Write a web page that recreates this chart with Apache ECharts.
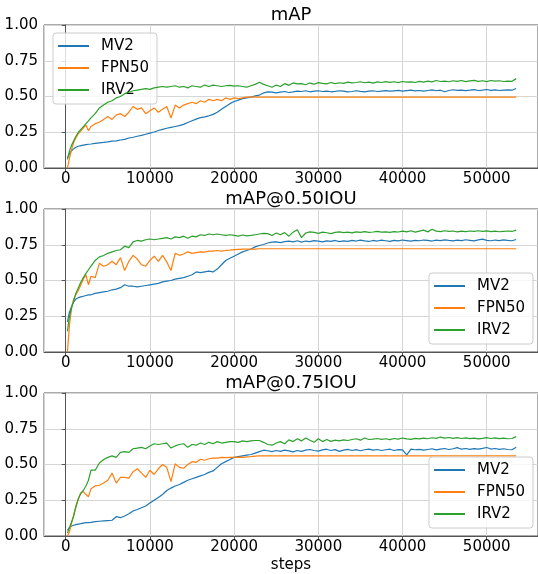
<!DOCTYPE html>
<html>
<head>
<meta charset="utf-8">
<script src="https://cdn.jsdelivr.net/npm/echarts@6/dist/echarts.min.js"></script>
<style>
  html, body { margin: 0; padding: 0; background: #fff; }
  #chart { width: 538px; height: 574px; }
</style>
</head>
<body>
<div id="chart"></div>
<script>
// training steps (shared by every curve)
var steps = [200, 450, 700, 950, 1200, 1500, 1800, 2100, 2400, 2700,
  3000, 3500, 4000, 4500, 5000, 5500, 6000, 6500, 7000, 7500,
  8000, 8500, 9000, 9500, 10000, 10500, 11000, 11500, 12000, 12500,
  13000, 13500, 14000, 14500, 15000, 15500, 16000, 16500, 17000, 17500,
  18000, 18500, 19000, 19500, 20000, 20500, 21000, 21500, 22000, 22500,
  23000, 23500, 24000, 24500, 25000, 25500, 26000, 26500, 27000, 27500,
  28000, 28500, 29000, 29500, 30000, 30500, 31000, 31500, 32000, 32500,
  33000, 33500, 34000, 34500, 35000, 35500, 36000, 36500, 37000, 37500,
  38000, 38500, 39000, 39500, 40000, 40500, 41000, 41500, 42000, 42500,
  43000, 43500, 44000, 44500, 45000, 45500, 46000, 46500, 47000, 47500,
  48000, 48500, 49000, 49500, 50000, 50500, 51000, 51500, 52000, 52500,
  53000, 53500];

var modelNames = ['MV2', 'FPN50', 'IRV2'];
var panelTitles = ['mAP', 'mAP@0.50IOU', 'mAP@0.75IOU'];

// mAP
var mapMV2 = [0.07, 0.10, 0.12, 0.135, 0.145, 0.152, 0.156, 0.16, 0.163, 0.166,
  0.168, 0.172, 0.176, 0.179, 0.183, 0.188, 0.19, 0.196, 0.20, 0.21,
  0.215, 0.222, 0.228, 0.236, 0.244, 0.252, 0.262, 0.27, 0.278, 0.284,
  0.29, 0.296, 0.305, 0.318, 0.33, 0.342, 0.352, 0.358, 0.365, 0.375,
  0.39, 0.41, 0.43, 0.45, 0.465, 0.475, 0.485, 0.49, 0.495, 0.505,
  0.51, 0.525, 0.532, 0.53, 0.525, 0.53, 0.535, 0.528, 0.532, 0.538,
  0.535, 0.54, 0.533, 0.537, 0.54, 0.535, 0.538, 0.533, 0.536, 0.54,
  0.537, 0.532, 0.535, 0.54, 0.536, 0.533, 0.537, 0.54, 0.535, 0.538,
  0.541, 0.537, 0.54, 0.543, 0.538, 0.541, 0.544, 0.539, 0.542, 0.538,
  0.542, 0.546, 0.54, 0.544, 0.533, 0.542, 0.547, 0.543, 0.545, 0.541,
  0.544, 0.548, 0.542, 0.545, 0.549, 0.543, 0.546, 0.542, 0.545, 0.547,
  0.544, 0.556];
var mapFPN50 = [0.0, 0.07, 0.13, 0.18, 0.21, 0.24, 0.26, 0.28, 0.30, 0.26,
  0.29, 0.31, 0.32, 0.34, 0.36, 0.34, 0.37, 0.38, 0.36, 0.39,
  0.43, 0.41, 0.42, 0.38, 0.40, 0.42, 0.39, 0.41, 0.43, 0.35,
  0.44, 0.42, 0.44, 0.45, 0.46, 0.45, 0.47, 0.46, 0.48, 0.47,
  0.48, 0.47, 0.49, 0.48, 0.49, 0.485, 0.49, 0.495, 0.495, 0.495,
  0.496, 0.496, 0.496, 0.496, 0.496, 0.496, 0.496, 0.496, 0.496, 0.496,
  0.496, 0.496, 0.496, 0.496, 0.496, 0.496, 0.496, 0.496, 0.496, 0.496,
  0.496, 0.496, 0.496, 0.496, 0.496, 0.496, 0.496, 0.496, 0.496, 0.496,
  0.496, 0.496, 0.496, 0.496, 0.496, 0.496, 0.496, 0.496, 0.496, 0.496,
  0.496, 0.496, 0.496, 0.496, 0.496, 0.496, 0.496, 0.496, 0.496, 0.496,
  0.496, 0.496, 0.496, 0.496, 0.496, 0.496, 0.496, 0.496, 0.496, 0.496,
  0.496, 0.496];
var mapIRV2 = [0.06, 0.12, 0.16, 0.19, 0.22, 0.25, 0.27, 0.29, 0.31, 0.33,
  0.35, 0.38, 0.42, 0.44, 0.46, 0.47, 0.49, 0.50, 0.52, 0.53,
  0.54, 0.545, 0.55, 0.555, 0.55, 0.56, 0.565, 0.57, 0.565, 0.57,
  0.575, 0.565, 0.57, 0.56, 0.575, 0.57, 0.565, 0.58, 0.57, 0.58,
  0.575, 0.57, 0.575, 0.578, 0.572, 0.575, 0.57, 0.565, 0.575, 0.585,
  0.60, 0.585, 0.575, 0.565, 0.58, 0.57, 0.59, 0.578, 0.595, 0.588,
  0.59, 0.582, 0.594, 0.586, 0.597, 0.592, 0.588, 0.598, 0.59, 0.596,
  0.592, 0.60, 0.595, 0.598, 0.603, 0.596, 0.60, 0.594, 0.602, 0.598,
  0.604, 0.599, 0.603, 0.597, 0.605, 0.60, 0.602, 0.598, 0.606, 0.601,
  0.607, 0.602, 0.612, 0.605, 0.608, 0.603, 0.61, 0.606, 0.612, 0.604,
  0.609, 0.613, 0.606, 0.61, 0.604, 0.612, 0.607, 0.61, 0.605, 0.608,
  0.606, 0.625];

// mAP@0.50IOU
var map50MV2 = [0.21, 0.28, 0.32, 0.35, 0.37, 0.38, 0.385, 0.39, 0.395, 0.40,
  0.40, 0.41, 0.415, 0.42, 0.425, 0.435, 0.44, 0.45, 0.47, 0.46,
  0.46, 0.455, 0.46, 0.465, 0.47, 0.475, 0.48, 0.49, 0.495, 0.50,
  0.51, 0.515, 0.52, 0.53, 0.54, 0.56, 0.555, 0.56, 0.565, 0.56,
  0.58, 0.61, 0.64, 0.655, 0.67, 0.685, 0.70, 0.71, 0.72, 0.735,
  0.745, 0.752, 0.762, 0.768, 0.77, 0.765, 0.772, 0.775, 0.77, 0.778,
  0.768, 0.776, 0.772, 0.779, 0.775, 0.77, 0.777, 0.774, 0.78, 0.772,
  0.777, 0.774, 0.78, 0.776, 0.782, 0.777, 0.773, 0.78, 0.776, 0.782,
  0.778, 0.774, 0.781, 0.777, 0.783, 0.779, 0.775, 0.781, 0.778, 0.783,
  0.78, 0.776, 0.782, 0.779, 0.784, 0.78, 0.777, 0.782, 0.779, 0.785,
  0.781, 0.777, 0.784, 0.789, 0.781, 0.778, 0.783, 0.779, 0.784, 0.78,
  0.778, 0.787];
var map50FPN50 = [0.0, 0.19, 0.31, 0.37, 0.40, 0.43, 0.47, 0.51, 0.54, 0.47,
  0.53, 0.52, 0.62, 0.60, 0.61, 0.634, 0.61, 0.66, 0.57, 0.634,
  0.676, 0.65, 0.61, 0.60, 0.64, 0.67, 0.634, 0.676, 0.63, 0.57,
  0.69, 0.676, 0.685, 0.70, 0.69, 0.695, 0.70, 0.698, 0.705, 0.705,
  0.71, 0.705, 0.71, 0.712, 0.716, 0.718, 0.72, 0.72, 0.72, 0.72,
  0.722, 0.722, 0.722, 0.722, 0.722, 0.722, 0.722, 0.722, 0.722, 0.722,
  0.722, 0.722, 0.722, 0.722, 0.722, 0.722, 0.722, 0.722, 0.722, 0.722,
  0.722, 0.722, 0.722, 0.722, 0.722, 0.722, 0.722, 0.722, 0.722, 0.722,
  0.722, 0.722, 0.722, 0.722, 0.722, 0.722, 0.722, 0.722, 0.722, 0.722,
  0.722, 0.722, 0.722, 0.722, 0.722, 0.722, 0.722, 0.722, 0.722, 0.722,
  0.722, 0.722, 0.722, 0.722, 0.722, 0.722, 0.722, 0.722, 0.722, 0.722,
  0.722, 0.722];
var map50IRV2 = [0.145, 0.25, 0.31, 0.36, 0.41, 0.45, 0.49, 0.52, 0.55, 0.575,
  0.60, 0.64, 0.665, 0.675, 0.69, 0.70, 0.71, 0.715, 0.74, 0.73,
  0.77, 0.78, 0.775, 0.785, 0.79, 0.785, 0.79, 0.795, 0.80, 0.79,
  0.805, 0.80, 0.81, 0.795, 0.81, 0.805, 0.82, 0.815, 0.825, 0.82,
  0.825, 0.82, 0.815, 0.82, 0.815, 0.81, 0.818, 0.812, 0.815, 0.82,
  0.825, 0.83, 0.828, 0.815, 0.832, 0.82, 0.835, 0.81, 0.838, 0.855,
  0.80, 0.832, 0.84, 0.836, 0.83, 0.838, 0.834, 0.828, 0.836, 0.84,
  0.835, 0.838, 0.833, 0.84, 0.837, 0.842, 0.836, 0.839, 0.843, 0.838,
  0.84, 0.836, 0.842, 0.839, 0.845, 0.84, 0.848, 0.838, 0.845, 0.852,
  0.84, 0.858, 0.845, 0.842, 0.848, 0.843, 0.846, 0.84, 0.845, 0.842,
  0.846, 0.843, 0.848, 0.844, 0.847, 0.842, 0.845, 0.841, 0.844, 0.846,
  0.843, 0.852];

// mAP@0.75IOU
var map75MV2 = [0.04, 0.06, 0.07, 0.075, 0.08, 0.083, 0.086, 0.09, 0.093, 0.093,
  0.095, 0.10, 0.103, 0.106, 0.108, 0.11, 0.135, 0.128, 0.14, 0.155,
  0.175, 0.185, 0.198, 0.21, 0.23, 0.25, 0.27, 0.29, 0.318, 0.335,
  0.35, 0.36, 0.375, 0.39, 0.40, 0.41, 0.42, 0.43, 0.445, 0.455,
  0.48, 0.505, 0.52, 0.535, 0.55, 0.555, 0.56, 0.565, 0.57, 0.58,
  0.59, 0.60, 0.596, 0.59, 0.598, 0.592, 0.60, 0.595, 0.588, 0.598,
  0.592, 0.60, 0.605, 0.598, 0.594, 0.602, 0.607, 0.598, 0.604, 0.592,
  0.60, 0.606, 0.598, 0.604, 0.596, 0.603, 0.608, 0.60, 0.605, 0.598,
  0.603, 0.607, 0.598, 0.604, 0.602, 0.568, 0.608, 0.603, 0.606, 0.60,
  0.605, 0.61, 0.602, 0.607, 0.612, 0.605, 0.61, 0.618, 0.607, 0.612,
  0.606, 0.611, 0.608, 0.613, 0.619, 0.608, 0.612, 0.606, 0.61, 0.605,
  0.603, 0.62];
var map75FPN50 = [0.0, 0.03, 0.09, 0.15, 0.21, 0.26, 0.30, 0.31, 0.29, 0.275,
  0.33, 0.35, 0.355, 0.37, 0.39, 0.44, 0.37, 0.41, 0.41, 0.405,
  0.45, 0.47, 0.44, 0.41, 0.46, 0.43, 0.47, 0.50, 0.48, 0.38,
  0.505, 0.48, 0.474, 0.50, 0.52, 0.515, 0.537, 0.53, 0.54, 0.544,
  0.545, 0.55, 0.548, 0.55, 0.55, 0.552, 0.55, 0.553, 0.555, 0.558,
  0.56, 0.56, 0.56, 0.56, 0.56, 0.56, 0.56, 0.56, 0.56, 0.56,
  0.56, 0.56, 0.56, 0.56, 0.56, 0.56, 0.56, 0.56, 0.56, 0.56,
  0.56, 0.56, 0.56, 0.56, 0.56, 0.56, 0.56, 0.56, 0.56, 0.56,
  0.56, 0.56, 0.56, 0.56, 0.56, 0.56, 0.56, 0.56, 0.56, 0.56,
  0.56, 0.56, 0.56, 0.56, 0.56, 0.56, 0.56, 0.56, 0.56, 0.56,
  0.56, 0.56, 0.56, 0.56, 0.56, 0.56, 0.56, 0.56, 0.56, 0.56,
  0.56, 0.56];
var map75IRV2 = [0.02, 0.06, 0.10, 0.14, 0.20, 0.26, 0.30, 0.32, 0.35, 0.39,
  0.46, 0.46, 0.51, 0.535, 0.55, 0.56, 0.55, 0.585, 0.59, 0.585,
  0.61, 0.615, 0.62, 0.61, 0.63, 0.645, 0.64, 0.645, 0.65, 0.615,
  0.63, 0.64, 0.645, 0.62, 0.64, 0.635, 0.65, 0.64, 0.655, 0.645,
  0.66, 0.65, 0.655, 0.66, 0.66, 0.655, 0.665, 0.66, 0.665, 0.668,
  0.668, 0.655, 0.64, 0.635, 0.65, 0.66, 0.645, 0.672, 0.66, 0.68,
  0.665, 0.685, 0.67, 0.655, 0.68, 0.66, 0.675, 0.662, 0.67, 0.665,
  0.672, 0.668, 0.675, 0.68, 0.67, 0.685, 0.675, 0.678, 0.682, 0.676,
  0.68, 0.674, 0.682, 0.677, 0.685, 0.679, 0.676, 0.683, 0.679, 0.685,
  0.68, 0.687, 0.683, 0.692, 0.685, 0.689, 0.683, 0.688, 0.682, 0.686,
  0.681, 0.685, 0.679, 0.683, 0.688, 0.682, 0.686, 0.681, 0.685, 0.68,
  0.682, 0.695];

var panels = [
  [mapMV2, mapFPN50, mapIRV2],
  [map50MV2, map50FPN50, map50IRV2],
  [map75MV2, map75FPN50, map75IRV2]
];

var colors = ['#1f77b4', '#ff7f0e', '#2ca02c'];
var font = 'DejaVu Sans';
var gridTops = [25, 209, 393];
var gridHeight = 143;
var legendPos = [{ left: 53, top: 33 }, { left: 429, top: 273 }, { left: 429, top: 457 }];

function pairs(vals) {
  return steps.map(function (s, i) {
    return [s, vals[i]];
  });
}

var chart = echarts.init(document.getElementById('chart'), null, { renderer: 'canvas' });

var grids = [];
var xAxes = [];
var yAxes = [];
var titles = [];
var legends = [];
var series = [];

panels.forEach(function (panel, p) {
  grids.push({
    left: 44,
    right: 0,
    top: gridTops[p],
    height: gridHeight,
    show: true,
    borderColor: '#555',
    borderWidth: 1
  });
  xAxes.push({
    gridIndex: p,
    type: 'value',
    min: -2580,
    max: 56090,
    splitNumber: 5,
    name: p === 2 ? 'steps' : '',
    nameLocation: 'middle',
    nameGap: 22,
    nameTextStyle: { color: '#000', fontSize: 15, fontFamily: font },
    axisLine: { show: true, onZero: false, lineStyle: { color: '#555' } },
    axisTick: { show: true, length: 4, lineStyle: { color: '#555' } },
    axisLabel: {
      color: '#000', fontSize: 15, fontFamily: font, margin: 4,
      showMinLabel: false, showMaxLabel: false,
      formatter: function (v) { return String(v); }
    },
    splitLine: { show: true, lineStyle: { color: '#d6d6d6', width: 1 } }
  });
  yAxes.push({
    gridIndex: p,
    type: 'value',
    min: 0,
    max: 1,
    interval: 0.25,
    axisLine: { show: true, lineStyle: { color: '#555' } },
    axisTick: { show: true, length: 4, lineStyle: { color: '#555' } },
    axisLabel: {
      color: '#000', fontSize: 15, fontFamily: font, margin: 6,
      formatter: function (v) { return v.toFixed(2); }
    },
    splitLine: { show: true, lineStyle: { color: '#d6d6d6', width: 1 } }
  });
  titles.push({
    text: panelTitles[p],
    left: 291,
    top: gridTops[p] - 19,
    textAlign: 'center',
    padding: 0,
    textStyle: { color: '#000', fontSize: 18, fontWeight: 'normal', fontFamily: font }
  });
  legends.push({
    data: modelNames,
    left: legendPos[p].left,
    top: legendPos[p].top,
    orient: 'vertical',
    icon: 'rect',
    itemWidth: 31,
    itemHeight: 2,
    itemGap: 6,
    padding: [5, 8, 6, 5],
    backgroundColor: 'rgba(255,255,255,0.8)',
    borderColor: '#ccc',
    borderWidth: 1,
    borderRadius: 3,
    selectedMode: false,
    textStyle: { color: '#000', fontSize: 15, fontFamily: font, lineHeight: 16, padding: [0, 0, 0, 7] }
  });
  panel.forEach(function (vals, k) {
    series.push({
      name: modelNames[k],
      type: 'line',
      xAxisIndex: p,
      yAxisIndex: p,
      data: pairs(vals),
      showSymbol: false,
      symbol: 'none',
      animation: false,
      color: colors[k],
      lineStyle: { color: colors[k], width: 1.2 },
      z: 2 + k
    });
  });
});

chart.setOption({
  animation: false,
  backgroundColor: '#fff',
  title: titles,
  legend: legends,
  grid: grids,
  xAxis: xAxes,
  yAxis: yAxes,
  series: series
});
</script>
</body>
</html>
